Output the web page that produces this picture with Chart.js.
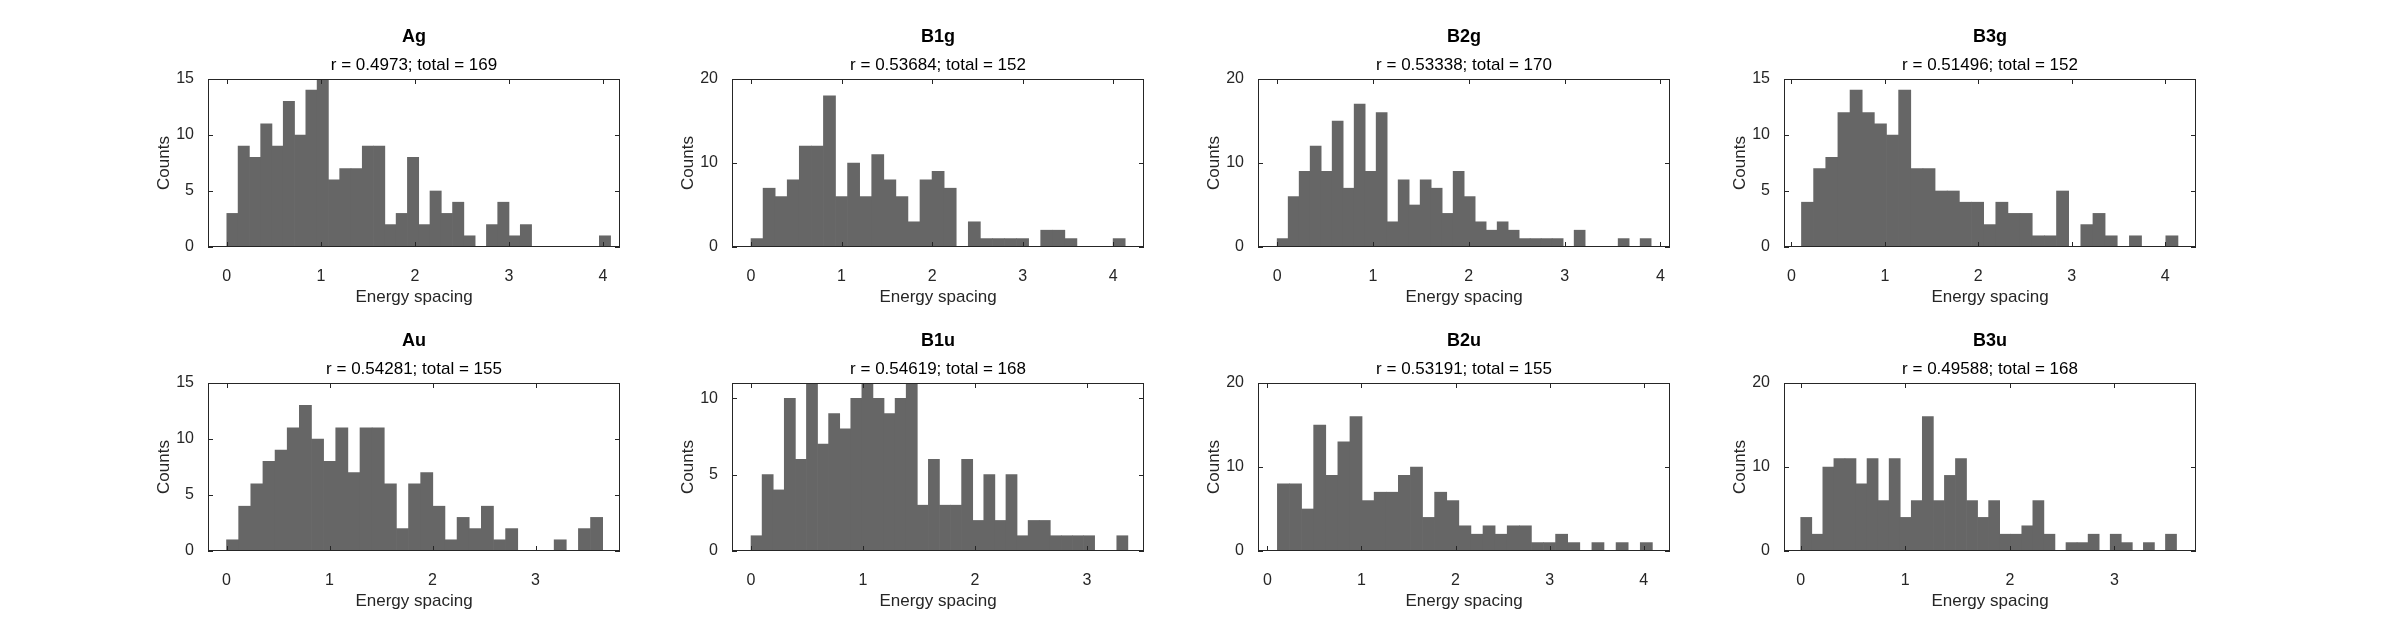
<!DOCTYPE html>
<html>
<head>
<meta charset="utf-8">
<script src="https://cdn.jsdelivr.net/npm/chart.js@4"></script>
<style>
  body { margin: 0; background: #fff; width: 2403px; height: 625px; position: relative; overflow: hidden; }
  .panel { position: absolute; }
</style>
</head>
<body>
<script>
// panel names and subtitles
var names = ['Ag', 'B1g', 'B2g', 'B3g', 'Au', 'B1u', 'B2u', 'B3u'];
var subtitles = [
  'r = 0.4973; total = 169', 'r = 0.53684; total = 152', 'r = 0.53338; total = 170', 'r = 0.51496; total = 152',
  'r = 0.54281; total = 155', 'r = 0.54619; total = 168', 'r = 0.53191; total = 155', 'r = 0.49588; total = 168'
];

// histogram bins: first edge and bin width
var binStart = [0, 0, 0, 0.107, 0, 0, 0.106, 0];
var binWidth = [0.12, 0.1333, 0.1148, 0.13, 0.1178, 0.099, 0.1286, 0.1057];

// counts per bin
var countsAg  = [3,9,8,11,9,13,10,14,15,6,7,7,9,9,2,3,8,2,5,3,4,1,0,2,4,1,2,0,0,0,0,0,0,1];
var countsB1g = [1,7,6,8,12,12,18,6,10,6,11,8,6,3,8,9,7,0,3,1,1,1,1,0,2,2,1,0,0,0,1];
var countsB2g = [1,6,9,12,9,15,7,17,9,16,3,8,5,8,7,4,9,6,3,2,3,2,1,1,1,1,0,2,0,0,0,1,0,1];
var countsB3g = [4,7,8,12,14,12,11,10,14,7,7,5,5,4,4,2,4,3,3,1,1,5,0,2,3,1,0,1,0,0,1];
var countsAu  = [1,4,6,8,9,11,13,10,8,11,7,11,11,6,2,6,7,4,1,3,2,4,1,2,0,0,0,1,0,2,3];
var countsB1u = [1,5,4,10,6,11,7,9,8,10,11,10,9,10,11,3,6,3,3,6,2,5,2,5,1,2,2,1,1,1,1,0,0,1];
var countsB2u = [8,8,5,15,9,13,16,6,7,7,9,10,4,7,6,3,2,3,2,3,3,1,1,2,1,0,1,0,1,0,1];
var countsB3u = [4,2,10,11,11,8,11,6,11,4,6,16,6,9,11,6,4,6,2,2,3,6,2,0,1,1,2,0,2,1,0,1,0,2];
var allCounts = [countsAg, countsB1g, countsB2g, countsB3g, countsAu, countsB1u, countsB2u, countsB3u];

// axis ranges
var xMin = [-0.2, -0.21, -0.2, -0.08, -0.18, -0.17, -0.1, -0.16];
var xMax = [4.18, 4.34, 4.1, 4.33, 3.82, 3.51, 4.28, 3.78];
var xTicks = [[0,1,2,3,4], [0,1,2,3,4], [0,1,2,3,4], [0,1,2,3,4], [0,1,2,3], [0,1,2,3], [0,1,2,3,4], [0,1,2,3]];
var yMax = [15, 20, 20, 15, 15, 11, 20, 20];
var yTicks = [[0,5,10,15], [0,10,20], [0,10,20], [0,5,10,15], [0,5,10,15], [0,5,10], [0,10,20], [0,10,20]];

var colLeft = [208, 732, 1258, 1784];
var rowTop = [79, 383];
var plotW = 412, plotH = 168;
var padLeft = 56, padTop = 80, padBottom = 65, padRight = 20;
var ink = '#262626';

// box, inward ticks and titles, like the original figure
var matlabAxes = {
  id: 'matlabAxes',
  afterDraw: function(chart) {
    var c = chart.ctx, a = chart.chartArea, o = chart.options.plugins.matlabAxes;
    var xs = chart.scales.x, ys = chart.scales.y;
    c.save();
    c.strokeStyle = ink;
    c.lineWidth = 1;
    c.strokeRect(a.left + 0.5, a.top + 0.5, a.right - a.left - 1, a.bottom - a.top - 1);
    var t = 5;
    c.beginPath();
    o.xTicks.forEach(function(v) {
      var px = Math.round(xs.getPixelForValue(v)) + 0.5;
      c.moveTo(px, a.bottom); c.lineTo(px, a.bottom - t);
      c.moveTo(px, a.top); c.lineTo(px, a.top + t);
    });
    o.yTicks.forEach(function(v) {
      var py = Math.round(ys.getPixelForValue(v)) + 0.5;
      c.moveTo(a.left, py); c.lineTo(a.left + t, py);
      c.moveTo(a.right, py); c.lineTo(a.right - t, py);
    });
    c.stroke();
    var cx = (a.left + a.right) / 2;
    c.fillStyle = '#000';
    c.textAlign = 'center';
    c.textBaseline = 'middle';
    c.font = 'bold 18px "Liberation Sans", Arial, sans-serif';
    c.fillText(o.name, cx, a.top - 42);
    c.font = '17px "Liberation Sans", Arial, sans-serif';
    c.fillText(o.subtitle, cx, a.top - 14);
    c.restore();
  }
};

names.forEach(function(name, i) {
  var col = i % 4, row = Math.floor(i / 4);
  var div = document.createElement('div');
  div.className = 'panel';
  var w = padLeft + plotW + padRight, h = padTop + plotH + padBottom;
  div.style.left = (colLeft[col] - padLeft) + 'px';
  div.style.top = (rowTop[row] - padTop) + 'px';
  div.style.width = w + 'px';
  div.style.height = h + 'px';
  var canvas = document.createElement('canvas');
  div.appendChild(canvas);
  document.body.appendChild(div);

  var points = allCounts[i].map(function(n, k) {
    return { x: binStart[i] + binWidth[i] * (k + 0.5), y: n };
  });

  new Chart(canvas.getContext('2d'), {
    type: 'bar',
    data: {
      datasets: [{
        data: points,
        backgroundColor: '#666666',
        borderWidth: 0,
        barPercentage: 1,
        categoryPercentage: 1
      }]
    },
    options: {
      responsive: true,
      maintainAspectRatio: false,
      animation: false,
      layout: { padding: { top: padTop, right: padRight, left: 0, bottom: 0 } },
      plugins: {
        legend: { display: false },
        tooltip: { enabled: false },
        matlabAxes: { name: name, subtitle: subtitles[i], xTicks: xTicks[i], yTicks: yTicks[i] }
      },
      scales: {
        x: {
          type: 'linear',
          offset: false,
          min: xMin[i],
          max: xMax[i],
          afterBuildTicks: function(s) { s.ticks = xTicks[i].map(function(v) { return { value: v }; }); },
          afterFit: function(s) { s.height = padBottom; },
          grid: { display: false },
          border: { display: false },
          ticks: { color: ink, padding: 12, maxRotation: 0, font: { family: '"Liberation Sans", Arial', size: 16 } },
          title: { display: true, text: 'Energy spacing', color: ink, padding: { top: 8 }, font: { family: '"Liberation Sans", Arial', size: 17 } }
        },
        y: {
          min: 0,
          max: yMax[i],
          afterBuildTicks: function(s) { s.ticks = yTicks[i].map(function(v) { return { value: v }; }); },
          afterFit: function(s) { s.width = padLeft; },
          grid: { display: false },
          border: { display: false },
          ticks: { color: ink, padding: 6, font: { family: '"Liberation Sans", Arial', size: 16 } },
          title: { display: true, text: 'Counts', color: ink, padding: { top: 2, bottom: 0 }, font: { family: '"Liberation Sans", Arial', size: 17 } }
        }
      }
    },
    plugins: [matlabAxes]
  });
});
</script>
</body>
</html>
